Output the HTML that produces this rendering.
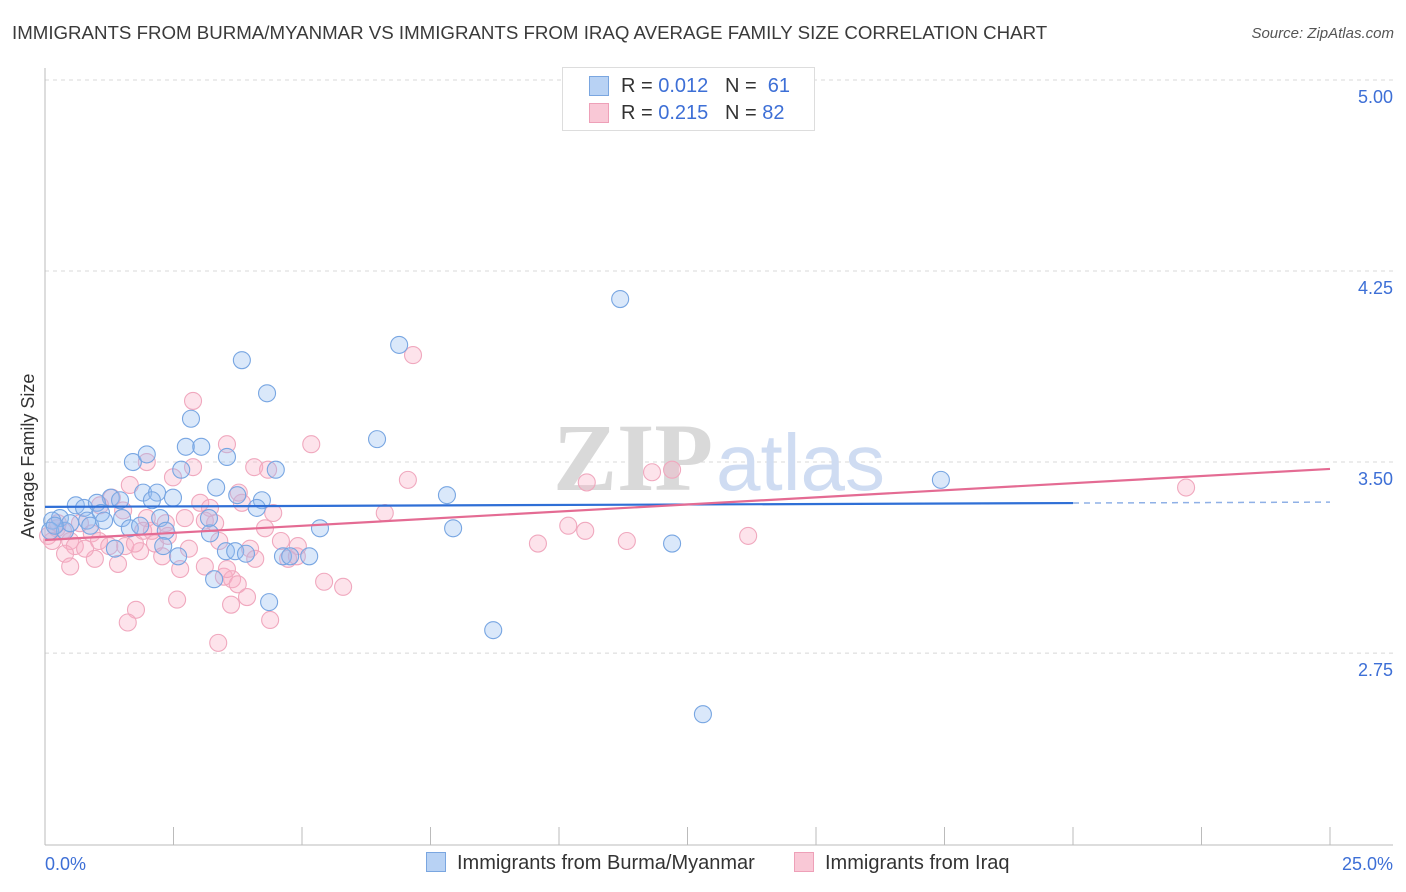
<!DOCTYPE html>
<html><head><meta charset="utf-8">
<style>
body{margin:0;background:#fff;font-family:"Liberation Sans",sans-serif;}
#wrap{position:relative;width:1406px;height:892px;overflow:hidden;}
.t{position:absolute;white-space:nowrap;}
</style></head>
<body>
<div id="wrap">
<div class="t" style="left:12px;top:22px;font-size:18.7px;color:#3a3a3a;">IMMIGRANTS FROM BURMA/MYANMAR VS IMMIGRANTS FROM IRAQ AVERAGE FAMILY SIZE CORRELATION CHART</div>
<div class="t" style="right:12px;top:25px;font-size:15px;color:#555;font-style:italic;">Source: ZipAtlas.com</div>
<svg id="svg" width="1406" height="892" style="position:absolute;left:0;top:0"></svg>
</div>
<script>
const xTicks=[0,2.5,5,7.5,10,12.5,15,17.5,20,22.5,25];
const yTicks=[2.75,3.5,4.25,5.0];
const yTickLabels=["2.75","3.50","4.25","5.00"];
const blueX=[11.19,6.89,3.83,4.32,2.84,6.46,2.74,3.04,3.54,1.71,1.98,2.65,4.49,3.33,3.74,4.22,4.12,7.82,17.43,1.91,2.18,2.49,1.28,0.60,0.76,1.01,1.46,2.08,1.09,0.82,1.50,2.24,1.65,1.85,0.88,1.15,2.35,3.19,3.21,5.35,7.94,0.29,0.14,0.10,0.39,0.49,1.36,2.30,2.59,3.52,3.70,3.91,4.63,4.77,5.14,3.29,4.36,8.72,12.20,12.80,0.19];
const blueY=[4.14,3.96,3.90,3.77,3.67,3.59,3.56,3.56,3.52,3.50,3.53,3.47,3.47,3.40,3.37,3.35,3.32,3.37,3.43,3.38,3.38,3.36,3.36,3.33,3.32,3.34,3.35,3.35,3.30,3.27,3.28,3.28,3.24,3.25,3.25,3.27,3.23,3.28,3.22,3.24,3.24,3.28,3.27,3.23,3.23,3.26,3.16,3.17,3.13,3.15,3.15,3.14,3.13,3.13,3.13,3.04,2.95,2.84,3.18,2.51,3.25];
const pinkX=[7.16,2.88,5.18,3.54,1.98,4.07,4.34,2.88,2.49,7.06,10.54,11.81,12.20,22.20,1.65,1.30,3.83,3.02,3.77,3.21,1.07,1.52,0.68,1.98,2.35,2.72,4.44,6.61,10.18,10.51,11.32,13.68,9.59,0.23,0.35,0.49,0.58,0.91,1.05,1.25,1.56,1.85,2.14,2.28,2.80,3.39,3.99,4.59,4.92,4.73,4.09,0.39,0.49,0.97,1.42,2.63,3.11,3.48,3.64,3.75,5.43,5.80,2.57,1.77,3.93,3.62,1.61,4.38,3.37,0.06,0.14,0.25,0.78,1.75,2.08,2.39,3.11,4.90,4.28,3.54,3.31,1.91];
const pinkY=[3.92,3.74,3.57,3.57,3.50,3.48,3.47,3.48,3.44,3.43,3.42,3.46,3.47,3.40,3.41,3.36,3.34,3.34,3.38,3.32,3.33,3.31,3.26,3.28,3.26,3.28,3.30,3.30,3.25,3.23,3.19,3.21,3.18,3.24,3.23,3.19,3.17,3.22,3.19,3.17,3.17,3.15,3.18,3.13,3.16,3.19,3.16,3.19,3.17,3.12,3.12,3.14,3.09,3.12,3.10,3.08,3.09,3.05,3.04,3.02,3.03,3.01,2.96,2.92,2.97,2.94,2.87,2.88,2.79,3.21,3.19,3.26,3.16,3.18,3.23,3.21,3.27,3.13,3.24,3.08,3.26,3.23];
const blueFit=[3.324,0.00075];
const pinkFit=[3.194,0.01116];
const X0=45,X1=1330,Y5=80,PXU=254.7;
const sx=v=>X0+(X1-X0)*v/25;
const sy=v=>Y5+(5-v)*PXU;
const svg=document.getElementById('svg');
const NS='http://www.w3.org/2000/svg';
function mk(tag,attrs,parent){const e=document.createElementNS(NS,tag);for(const k in attrs)e.setAttribute(k,attrs[k]);(parent||svg).appendChild(e);return e;}
yTicks.forEach((v,i)=>{
 const g=mk('line',{x1:45,x2:1393,y1:sy(v),y2:sy(v),stroke:'#d8d8d8','stroke-dasharray':'4,4'});
 
 
 const t=mk('text',{x:1393,y:sy(v)+23,'text-anchor':'end','font-size':18,fill:'#3d6fd6','font-family':'Liberation Sans'});
 t.textContent=yTickLabels[i];
 
 
});
const ya=mk('line',{x1:45,x2:45,y1:68,y2:845,stroke:'#bbb'});


const xa=mk('line',{x1:45,x2:1393,y1:845,y2:845,stroke:'#bbb'});


xTicks.forEach(v=>{
 const tk=mk('line',{x1:sx(v),x2:sx(v),y1:827,y2:845,stroke:'#bbb'});
 
 
});
const wm=mk('text',{x:553,y:490,'font-size':96,fill:'#d9d9d9','font-family':'Liberation Serif','font-weight':'bold'});
wm.textContent='ZIP';


const wm2=mk('text',{x:716,y:490,'font-size':80,fill:'#cfdcf2','font-family':'Liberation Sans'});
wm2.textContent='atlas';


function pts(xs,ys,fill,stroke,name){
 xs.forEach((x,i)=>{
  const c=mk('circle',{cx:sx(x),cy:sy(ys[i]),r:8.5,fill:fill,stroke:stroke,'stroke-width':1.1});
  
  
 });
}
pts(pinkX,pinkY,'rgba(248,175,198,0.35)','#f0a8be','iraq-point');
pts(blueX,blueY,'rgba(150,190,240,0.35)','#78a6e2','burma-point');
const bl=mk('line',{x1:sx(0),y1:sy(blueFit[0]),x2:sx(20),y2:sy(blueFit[0]+blueFit[1]*20),stroke:'#2f6fd6','stroke-width':2.2});


const bd=mk('line',{x1:sx(20),y1:sy(blueFit[0]+blueFit[1]*20),x2:sx(25),y2:sy(blueFit[0]+blueFit[1]*25),stroke:'#8fb0e6','stroke-width':1.5,'stroke-dasharray':'6,5'});


const pl=mk('line',{x1:sx(0),y1:sy(pinkFit[0]),x2:sx(25),y2:sy(pinkFit[0]+pinkFit[1]*25),stroke:'#e46b93','stroke-width':2.2});


const yl=mk('text',{x:34,y:456,transform:'rotate(-90 34 456)','text-anchor':'middle','font-size':18,fill:'#333','font-family':'Liberation Sans'});
yl.textContent='Average Family Size';


const x0=mk('text',{x:45,y:870,'font-size':18,fill:'#3d6fd6','font-family':'Liberation Sans'});
x0.textContent='0.0%';


const x1=mk('text',{x:1393,y:870,'text-anchor':'end','font-size':18,fill:'#3d6fd6','font-family':'Liberation Sans'});
x1.textContent='25.0%';


</script>
<div class="t" style="left:562px;top:67px;width:251px;height:62px;border:1px solid #ddd;background:#fff;font-size:20px;">
 <div style="position:absolute;left:26px;top:8px;width:18px;height:18px;background:#b8d2f4;border:1px solid #7aa6e0;"></div>
 <div class="t" style="left:58px;top:7px;color:#333;">R = <span style="color:#3d6fd6">0.012</span>&nbsp;&nbsp;&nbsp;N = &nbsp;<span style="color:#3d6fd6">61</span></div>
 <div style="position:absolute;left:26px;top:35px;width:18px;height:18px;background:#f9c8d6;border:1px solid #eea0b8;"></div>
 <div class="t" style="left:58px;top:34px;color:#333;">R = <span style="color:#3d6fd6">0.215</span>&nbsp;&nbsp;&nbsp;N = <span style="color:#3d6fd6">82</span></div>
</div>
<div class="t" style="left:426px;top:852px;font-size:20px;color:#333;">
 <span style="display:inline-block;width:18px;height:18px;background:#b8d2f4;border:1px solid #7aa6e0;vertical-align:-3px;margin-right:11px;"></span>Immigrants from Burma/Myanmar</div>
<div class="t" style="left:794px;top:852px;font-size:20px;color:#333;">
 <span style="display:inline-block;width:18px;height:18px;background:#f9c8d6;border:1px solid #eea0b8;vertical-align:-3px;margin-right:11px;"></span>Immigrants from Iraq</div>
</body></html>
